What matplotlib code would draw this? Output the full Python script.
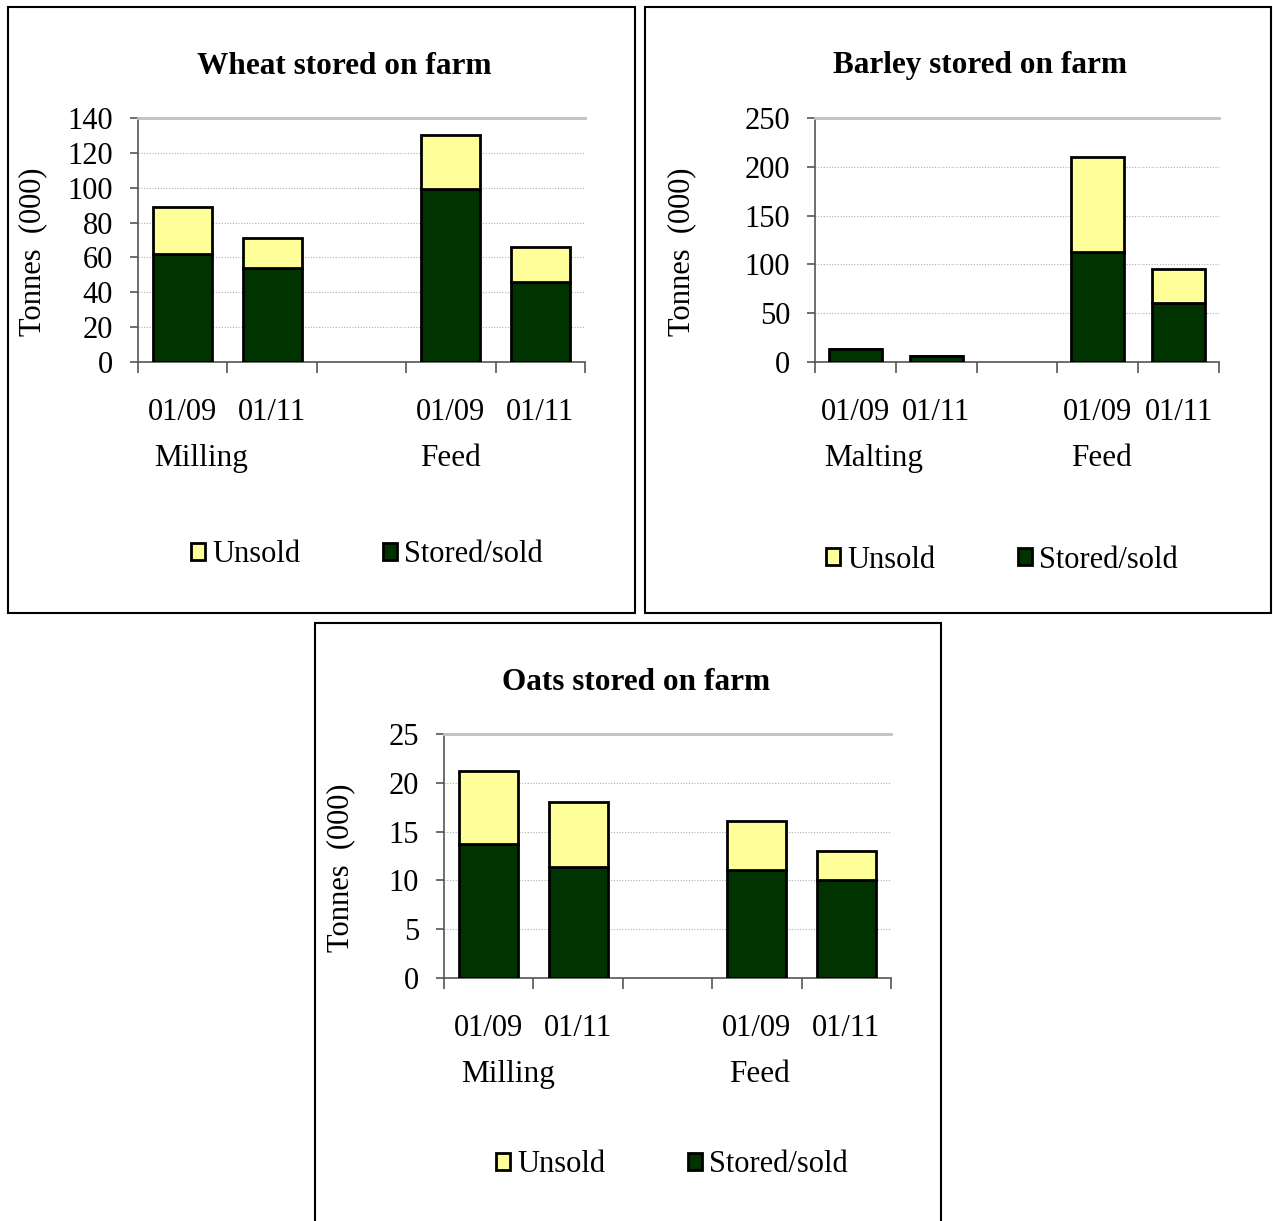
import matplotlib
matplotlib.use("Agg")
import matplotlib.pyplot as plt
from matplotlib.patches import Rectangle
from matplotlib.transforms import blended_transform_factory

plt.rcParams['font.family'] = ['Liberation Serif', 'DejaVu Serif']

# data (tonnes, 000) - 5 slots, middle one is the blank gap
dates = ["01/09", "01/11", "", "01/09", "01/11"]

wheat_stored = [62, 54, 0, 99, 46]
wheat_unsold = [27, 17, 0, 31, 20]
wheat_groups = ["Milling", "Feed"]

barley_stored = [13, 6, 0, 113, 60]
barley_unsold = [0, 0, 0, 97, 35]
barley_groups = ["Malting", "Feed"]

oats_stored = [13.7, 11.4, 0, 11.1, 10.0]
oats_unsold = [7.5, 6.6, 0, 5.0, 3.0]
oats_groups = ["Milling", "Feed"]

YELLOW = "#FFFF99"
GREEN = "#003300"

W, H = 1273, 1221
fig = plt.figure(figsize=(W / 100, H / 100), dpi=100)


def px_axes(left, top, right, bottom):
    return fig.add_axes([left / W, 1 - bottom / H, (right - left) / W, (bottom - top) / H])


def panel_box(left, top, right, bottom):
    fig.patches.append(Rectangle((left / W, 1 - bottom / H), (right - left) / W, (bottom - top) / H,
                                 transform=fig.transFigure, fill=False, ec="black", lw=1.5))


def draw(ax, stored, unsold, groups, ymax, step, title, title_xy, group_x, ylab_x, legend_xy):
    # skip the empty gap slot so no flat edge gets drawn there
    idx = [i for i in range(len(stored)) if stored[i] + unsold[i] > 0]
    b1 = ax.bar(idx, [stored[i] for i in idx], width=0.66, color=GREEN,
                edgecolor="black", lw=2, zorder=3)
    b2 = ax.bar(idx, [unsold[i] for i in idx], bottom=[stored[i] for i in idx], width=0.66,
                color=YELLOW, edgecolor="black", lw=2, zorder=3)
    ax.set_xlim(-0.5, len(stored) - 0.5)
    ax.set_ylim(0, ymax)
    ax.set_yticks([i * step for i in range(int(ymax / step) + 1)])
    ax.yaxis.grid(True, ls=(0, (1, 1.5)), color="#B0B0B0", lw=0.8, zorder=0)
    ax.spines["right"].set_visible(False)
    ax.spines["top"].set_color("#C0C0C0")
    ax.spines["top"].set_linewidth(2)
    for s in ["left", "bottom"]:
        ax.spines[s].set_color("#555555")
        ax.spines[s].set_linewidth(1.2)
    ax.tick_params(axis="y", direction="out", length=6, width=1.2, color="#555555",
                   labelsize=22, pad=12)
    ax.set_xticks(list(range(len(stored))))
    ax.set_xticklabels(dates)
    ax.set_xticks([i - 0.5 for i in range(len(stored) + 1)], minor=True)
    ax.tick_params(axis="x", which="major", length=0, labelsize=22, pad=26)
    ax.tick_params(axis="x", which="minor", direction="out", length=8, width=1.2, color="#555555")
    ax.set_ylabel("Tonnes  (000)", fontsize=22)
    ax.yaxis.set_label_coords(ylab_x, 0.45)
    tr = blended_transform_factory(ax.transData, ax.transAxes)
    for g, gx in zip(groups, group_x):
        ax.text(gx, -0.397, g, transform=tr, ha="center", va="center", fontsize=22.5)
    fig.text(title_xy[0] / W, 1 - title_xy[1] / H, title, ha="center", va="center",
             fontsize=22.5, fontweight="bold")
    ax.legend([b2, b1], ["Unsold", "Stored/sold"], ncol=2, frameon=False, fontsize=22,
              loc="center left", bbox_to_anchor=(legend_xy[0] / W, 1 - legend_xy[1] / H),
              bbox_transform=fig.transFigure, handlelength=0.45, handleheight=0.45,
              handletextpad=0.25, columnspacing=2.7, borderpad=0, borderaxespad=0)


panel_box(8, 7, 635, 613)
panel_box(645, 7, 1271, 613)
panel_box(315, 623, 941, 1225)

ax1 = px_axes(138, 118, 585, 362)
draw(ax1, wheat_stored, wheat_unsold, wheat_groups, 140, 20, "Wheat stored on farm",
     (344, 66), [0.2, 3.0], -0.204, (191, 555))

ax2 = px_axes(815, 118, 1219, 362)
draw(ax2, barley_stored, barley_unsold, barley_groups, 250, 50, "Barley stored on farm",
     (980, 66), [0.22, 3.05], -0.295, (826, 560))

ax3 = px_axes(444, 734, 891, 978)
draw(ax3, oats_stored, oats_unsold, oats_groups, 25, 5, "Oats stored on farm",
     (636, 682), [0.22, 3.03], -0.199, (496, 1165))

fig.savefig("out.png", dpi=100)
